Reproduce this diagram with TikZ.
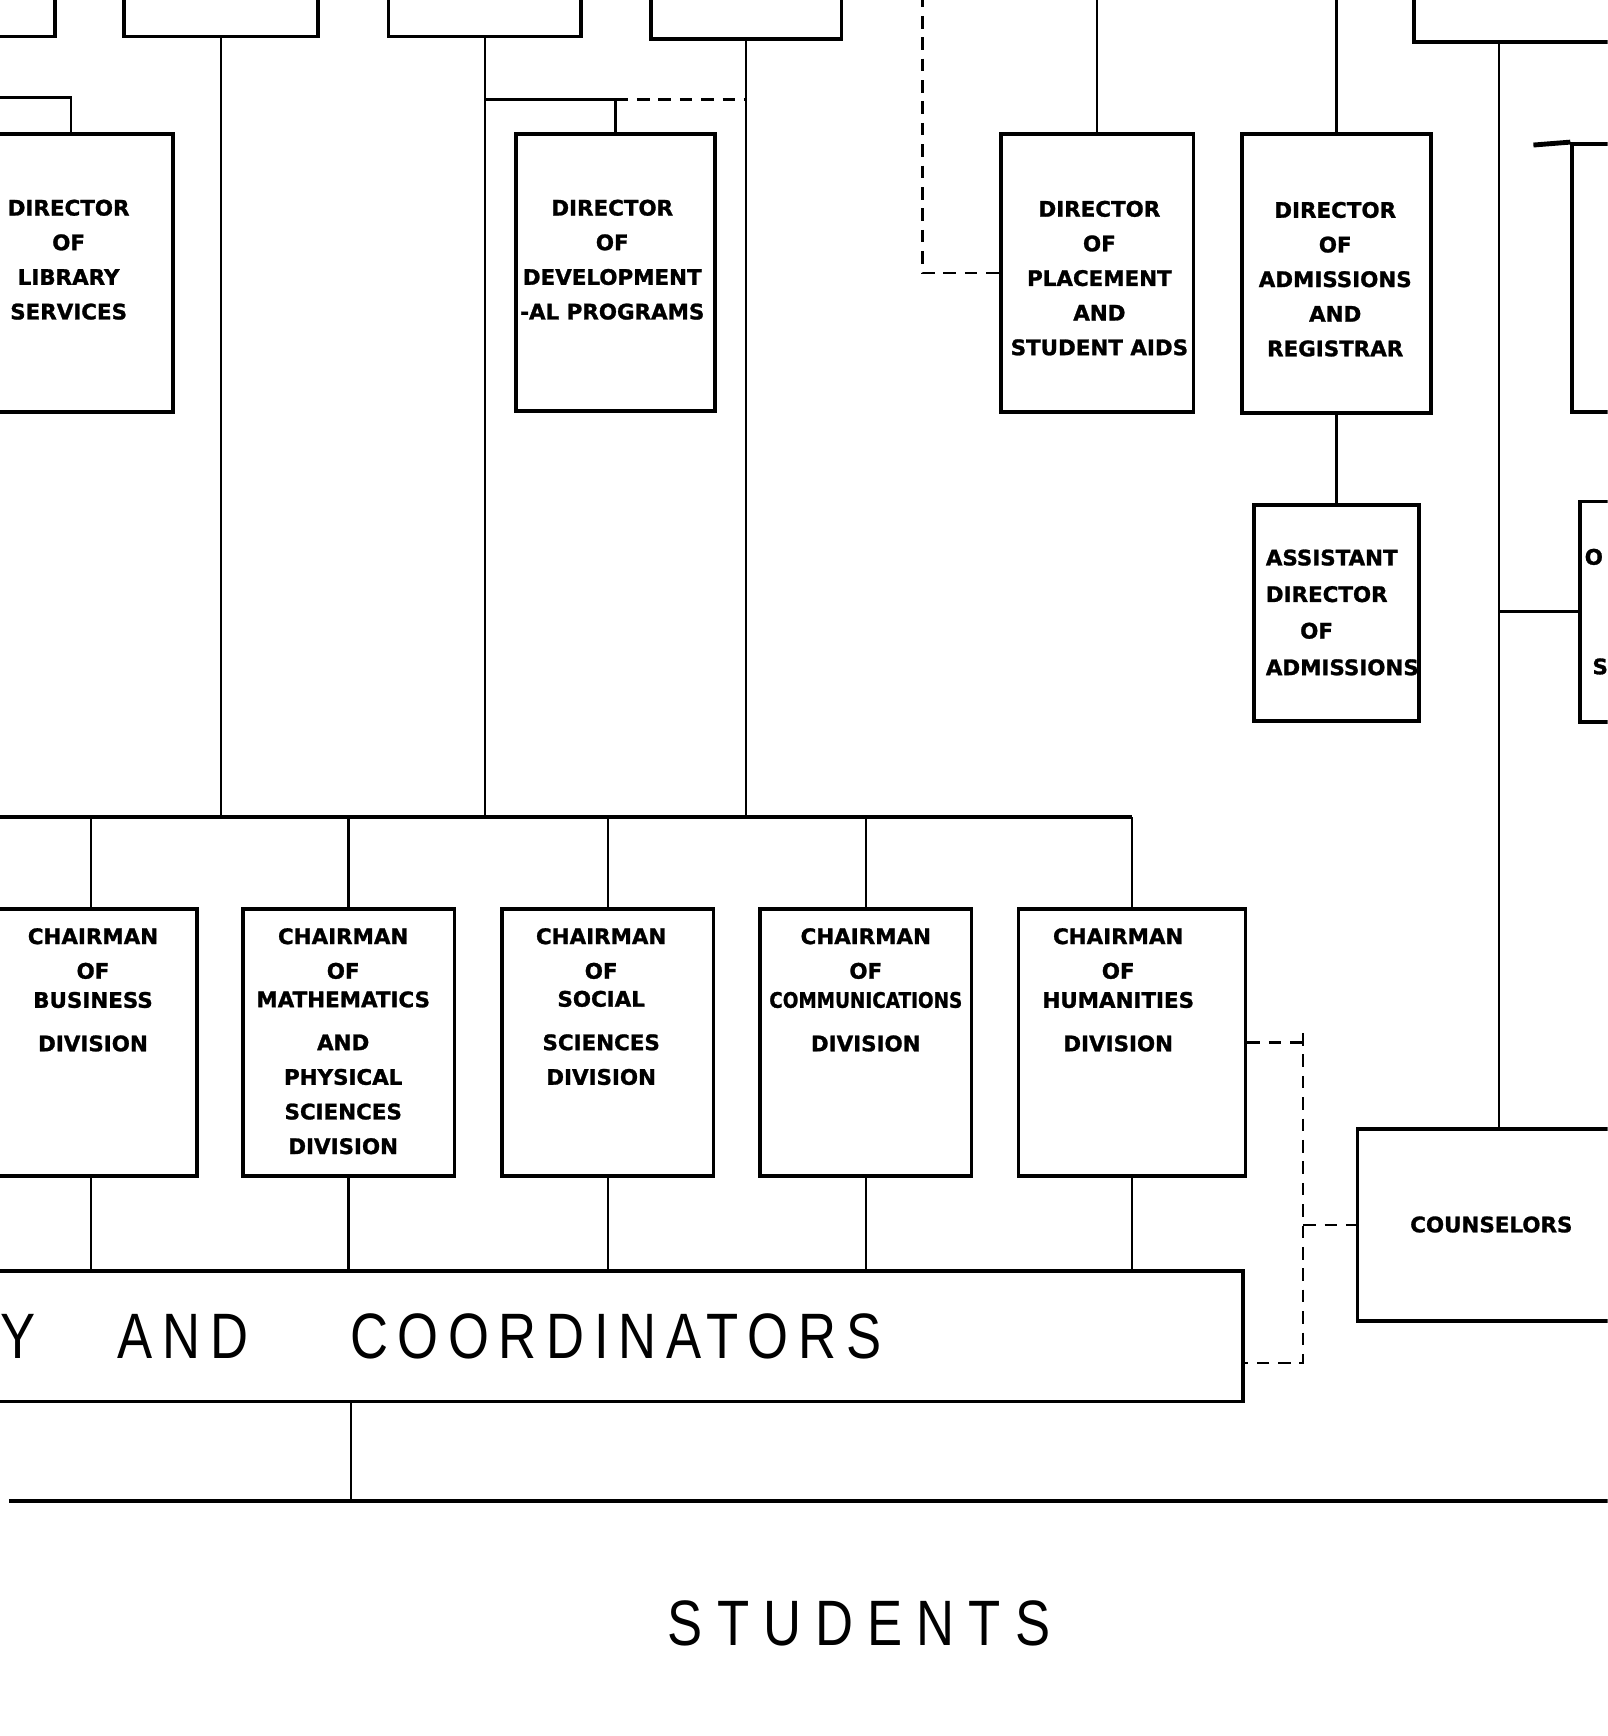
\documentclass[tikz,border=0pt]{standalone}
\usepackage{graphicx}
\usepackage{fontspec}
\newfontfamily\chartfont{DejaVu Sans}[BoldFeatures={FakeBold=1.2}]
\newfontfamily\bigletters{Liberation Sans}[FakeStretch=0.82,LetterSpace=15]

\begin{document}
\begin{tikzpicture}[x=0.02cm, y=-0.02cm,
	box/.style={draw, line width=1.9pt, inner sep=0pt},
	conn/.style={line width=1.3pt},
	bus/.style={line width=1.9pt},
	dline/.style={line width=1.3pt, dash pattern=on 6.5pt off 4.5pt},
	lbl/.style={font=\chartfont\bfseries\fontsize{11}{17.8}\selectfont, align=center, inner sep=0pt, anchor=north},
	big/.style={font=\bigletters\fontsize{33}{36}\selectfont, inner sep=0pt, anchor=base west}]

	\useasboundingbox (0,0) rectangle (1452,1568);
	\clip (0,0) rectangle (1452,1568);

	% boxes of the row above
	\node[box, minimum width=3.6cm, minimum height=1.86cm] (boxA) at (-40,-13.5) {};
	\node[box, minimum width=3.5cm, minimum height=1.86cm] (boxB) at (199.5,-13.5) {};
	\node[box, minimum width=3.48cm, minimum height=1.86cm] (boxC) at (438,-13.5) {};
	\node[box, minimum width=3.44cm, minimum height=1.9cm] (boxD) at (674,-12.5) {};
	\node[box, minimum width=4.46cm, minimum height=1.96cm] (boxE) at (1388.5,-11) {};

	% directors
	\node[box, minimum width=3.68cm, minimum height=5.02cm] (lib) at (64,246.5) {};
	\node[box, minimum width=3.6cm, minimum height=5.0cm] (dev) at (556,246) {};
	\node[box, minimum width=3.48cm, minimum height=5.02cm] (place) at (991,246.5) {};
	\node[box, minimum width=3.42cm, minimum height=5.04cm] (adm) at (1207,247) {};
	\node[box, minimum width=2.98cm, minimum height=3.9cm] (asst) at (1207,553.5) {};
	\node[box, minimum width=3.6cm, minimum height=4.84cm] (rbox) at (1510,251) {};
	\node[box, minimum width=3.46cm, minimum height=3.98cm] (rbox2) at (1513.5,552.5) {};

	\node[lbl] (libT) at (62,180) {DIRECTOR\\OF\\LIBRARY\\SERVICES};
	\node[lbl] (devT) at (553,180) {DIRECTOR\\OF\\DEVELOPMENT\\-AL PROGRAMS};
	\node[lbl] (placeT) at (993,181) {DIRECTOR\\OF\\PLACEMENT\\AND\\STUDENT AIDS};
	\node[lbl] (admT) at (1206,182) {DIRECTOR\\OF\\ADMISSIONS\\AND\\REGISTRAR};
	\node[lbl, align=left, anchor=north west] (asstT) at (1143,496) {ASSISTANT\\[1pt]DIRECTOR\\[1pt]\hspace{0.62cm}OF\\[1pt]ADMISSIONS};
	\node[lbl, anchor=west] (rboxT1) at (1431,503) {O};
	\node[lbl, anchor=west] (rboxT2) at (1438,602) {S};

	% division chairmen
	\node[box, minimum width=3.84cm, minimum height=4.82cm] (chBus) at (82,941.5) {};
	\node[box, minimum width=3.82cm, minimum height=4.82cm] (chMath) at (315,941.5) {};
	\node[box, minimum width=3.82cm, minimum height=4.82cm] (chSoc) at (549,941.5) {};
	\node[box, minimum width=3.82cm, minimum height=4.82cm] (chCom) at (782,941.5) {};
	\node[box, minimum width=4.1cm, minimum height=4.82cm] (chHum) at (1022.5,941.5) {};

	\node[lbl] (chBusT) at (84,838) {CHAIRMAN\\OF\\[-0.1cm]BUSINESS\\[0.16cm]DIVISION};
	\node[lbl] (chMathT) at (310,838) {CHAIRMAN\\OF\\[-0.11cm]MATHEMATICS\\[0.15cm]AND\\PHYSICAL\\SCIENCES\\DIVISION};
	\node[lbl] (chSocT) at (543,838) {CHAIRMAN\\OF\\[-0.12cm]SOCIAL\\[0.16cm]SCIENCES\\DIVISION};
	\node[lbl] (chComT) at (782,838) {CHAIRMAN\\OF\\[-0.1cm]\scalebox{0.86}[1]{COMMUNICATIONS}\\[0.16cm]DIVISION};
	\node[lbl] (chHumT) at (1010,838) {CHAIRMAN\\OF\\[-0.1cm]HUMANITIES\\[0.16cm]DIVISION};

	% faculty, counselors, students
	\node[box, minimum width=28.46cm, minimum height=2.36cm] (fac) at (411.5,1207) {};
	\node[big] (facT) at (0,1227) {Y\hspace{1.49cm}AND\hspace{1.84cm}COORDINATORS};
	\node[box, minimum width=5.12cm, minimum height=3.46cm] (couns) at (1354,1106.5) {};
	\node[lbl, anchor=center] (counsT) at (1347,1106) {COUNSELORS};
	\node[big, anchor=base] (stuT) at (776,1486) {\addfontfeature{LetterSpace=22}STUDENTS};

	% lines of authority
	\coordinate (busL) at (0,738);
	\draw[bus] (busL) -- (chHum |- busL);
	\foreach \b in {boxB,boxC,boxD}
		\draw[conn] (\b) -- (\b |- busL);
	\foreach \c in {chBus,chMath,chSoc,chCom,chHum} {
		\draw[conn] (\c |- busL) -- (\c);
		\draw[conn] (\c) -- (\c |- fac.north);
	}

	\coordinate (libIn) at (0,88);
	\draw[conn] (libIn) -| (lib);

	\coordinate (devJ) at (556,90);
	\draw[conn] (boxC |- devJ) -- (devJ) -- (dev);
	\draw[dline] (devJ) -- (boxD |- devJ);

	\coordinate (plDash) at (833,-5);
	\draw[dline] (plDash) |- (place.west);
	\coordinate (plTop) at (991,-5);
	\draw[conn] (plTop) -- (place);
	\coordinate (admTop) at (1207,-5);
	\draw[conn] (admTop) -- (adm);
	\draw[conn] (adm) -- (asst);

	\draw[conn] (boxE.south -| couns) -- (couns);
	\draw[conn] (couns |- rbox2.west) -- (rbox2.west);
	\coordinate (rboxIn) at (1385,131);
	\draw[line width=2.5pt] (rboxIn) -- (rbox.north west);

	\coordinate (stuL) at (8,1356);
	\coordinate (stuR) at (1460,1356);
	\draw[bus] (stuL) -- (stuR);
	\coordinate (stuDrop) at (317,1356);
	\draw[conn] (stuDrop |- fac.south) -- (stuDrop);

	% advisory links
	\coordinate (brk) at (1177,933);
	\coordinate (facR) at (1123,1231);
	\draw[dline] (chHum.east) -- (chHum.east -| brk);
	\draw[dline] (brk) -- (brk |- facR) -- (facR);
	\draw[dline] (couns.west -| brk) -- (couns.west);
\end{tikzpicture}
\end{document}
